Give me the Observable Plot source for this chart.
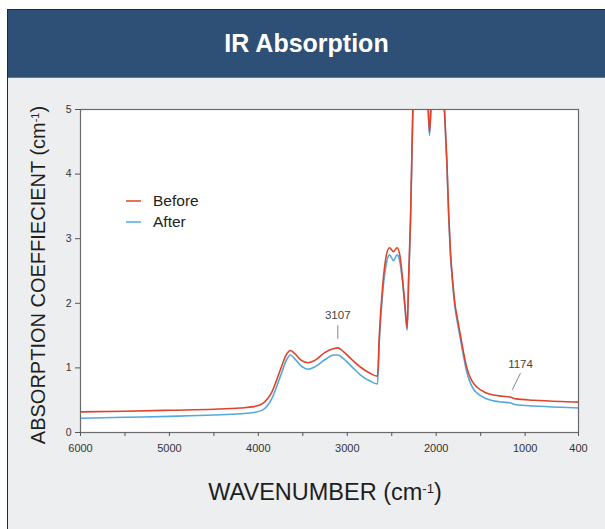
<!DOCTYPE html>
<html><head><meta charset="utf-8">
<script src="https://cdn.jsdelivr.net/npm/d3@7"></script>
<script src="https://cdn.jsdelivr.net/npm/@observablehq/plot@0.6"></script>
<style>
body{margin:0;background:#fff;width:605px;height:529px;overflow:hidden;position:relative;font-family:"Liberation Sans",Arial,Helvetica,sans-serif}
#panel{position:absolute;left:7px;top:9px;width:598px;height:520px;background:#edeeef;border-left:1px solid #2a2a2a;border-top:1px solid #2a2a2a;box-sizing:border-box}
#hdr{position:absolute;left:8px;top:10px;width:597px;height:67px;background:#2e4f76;color:#fff;font-weight:bold;font-size:25px;text-align:center;line-height:67px;border-bottom:1px solid #5f7996}
#chart{position:absolute;left:0;top:78px}
</style></head><body>
<div id="panel"></div>
<div id="hdr">IR Absorption</div>
<div id="chart"></div>
<script>
// Wavenumber (cm-1), descending
const wavenumber = [6000,5500,5000,4500,4200,4050,3950,3850,3750,3680,3640,3590,3520,3440,3360,3250,3150,3107,3050,2950,2850,2750,2660,2640,2600,2560,2525,2480,2440,2410,2380,2350,2327,2310,2289,2263,2240,2200,2130,2095,2075,2055,2020,1960,1907,1880,1860,1840,1815,1790,1760,1727,1690,1659,1620,1580,1540,1450,1355,1250,1174,1100,900,600,400];
const before = [0.32,0.33,0.345,0.36,0.38,0.40,0.45,0.62,0.98,1.22,1.27,1.22,1.12,1.08,1.12,1.24,1.30,1.31,1.26,1.13,1.01,0.92,0.87,1.5,2.3,2.75,2.86,2.80,2.86,2.75,2.4,1.95,1.62,2.4,3.3,5.0,6.0,6.5,6.0,5.2,4.65,5.2,6.0,6.3,5.0,4.2,3.4,2.8,2.35,2.0,1.75,1.5,1.22,1.02,0.86,0.76,0.70,0.62,0.58,0.56,0.55,0.52,0.50,0.48,0.47];
const after  = [0.22,0.235,0.25,0.27,0.29,0.31,0.35,0.52,0.88,1.13,1.20,1.14,1.03,0.98,1.02,1.13,1.20,1.20,1.15,1.02,0.89,0.80,0.75,1.4,2.2,2.62,2.75,2.66,2.75,2.65,2.35,1.9,1.58,2.35,3.25,4.95,5.95,6.45,5.95,5.15,4.6,5.15,5.95,6.25,4.95,4.15,3.35,2.75,2.3,1.95,1.69,1.44,1.16,0.95,0.78,0.67,0.61,0.53,0.49,0.47,0.46,0.43,0.41,0.39,0.38];
const seriesNames = ["Before","After"];
const seriesColors = ["#df432c","#55a8dc"];
const xTicks = [6000,5500,5000,4500,4000,3500,3000,2500,2000,1500,1000,400];
const xTickLabels = [6000,5000,4000,3000,2000,1000,400];
const yTicks = [0,1,2,3,4,5];
const annotations = [
  {label:"3107", x:3107, y:1.82, x1:3107, y1:1.66, x2:3107, y2:1.45},
  {label:"1174", x:1052, y:1.06, x1:1052, y1:0.92, x2:1145, y2:0.66}
];

const rows = [];
wavenumber.forEach((w,i)=>{
  rows.push({w, v: before[i], s:"Before"});
  rows.push({w, v: after[i], s:"After"});
});

const W = 605, H = 451;
const plot = Plot.plot({
  width: W, height: H,
  marginLeft: 80, marginRight: 27, marginTop: 31, marginBottom: 97,
  style: {background:"transparent", fontFamily:"'Liberation Sans', Arial, sans-serif", color:"#333"},
  x: {domain:[6000,400]},
  y: {domain:[0,5]},
  marks: [
    Plot.frame({fill:"white", stroke:"none"}),
    Plot.lineY(rows.filter(d=>d.s==="After"), {x:"w", y:"v", stroke: seriesColors[1], strokeWidth:1.6, curve:"monotone-x", clip:true}),
    Plot.lineY(rows.filter(d=>d.s==="Before"), {x:"w", y:"v", stroke: seriesColors[0], strokeWidth:1.6, curve:"monotone-x", clip:true}),
    Plot.frame({stroke:"#6b6b6b", strokeWidth:1.2}),
    Plot.axisX({ticks:xTicks, tickFormat:d=> xTickLabels.includes(d) ? String(d) : "", tickSize:4, tickPadding:8, fontSize:11, label:null, stroke:"#555"}),
    Plot.axisY({ticks:yTicks, tickFormat:"d", tickSize:5, tickPadding:4, fontSize:10.5, label:null, stroke:"#555"}),
    Plot.link(annotations, {x1:"x1", y1:"y1", x2:"x2", y2:"y2", stroke:"#888", strokeWidth:1}),
    Plot.text(annotations, {x:"x", y:"y", text:"label", fontSize:11.5, fill:"#444"})
  ]
});
document.getElementById("chart").appendChild(plot);

const svg = d3.select(plot);
const ff = "'Liberation Sans', Arial, sans-serif";
// y axis label
const yl = svg.append("text").attr("transform","translate(38,197) rotate(-90)")
  .attr("text-anchor","middle").attr("dy","0.35em").attr("font-size",20).attr("fill","#1e1e1e").attr("font-family",ff);
yl.append("tspan").text("ABSORPTION COEFFIECIENT (cm");
yl.append("tspan").attr("font-size",11).attr("baseline-shift","super").text("-1");
yl.append("tspan").text(")");
// x axis label
const xl = svg.append("text").attr("x",325).attr("y",414).attr("text-anchor","middle").attr("dy","0.35em")
  .attr("font-size",23.5).attr("fill","#1e1e1e").attr("font-family",ff);
xl.append("tspan").text("WAVENUMBER (cm");
xl.append("tspan").attr("font-size",13).attr("baseline-shift","super").text("-1");
xl.append("tspan").text(")");
// legend
const lg = svg.append("g").attr("font-family",ff).attr("text-anchor","start");
seriesNames.forEach((name,i)=>{
  const y = 123 + i*21;
  lg.append("line").attr("x1",126).attr("x2",141).attr("y1",y).attr("y2",y).attr("stroke",seriesColors[i]).attr("stroke-width",1.5);
  lg.append("text").attr("x",153).attr("y",y).attr("dy","0.35em").attr("font-size",15.5).attr("fill","#222").text(name);
});
</script></body></html>
